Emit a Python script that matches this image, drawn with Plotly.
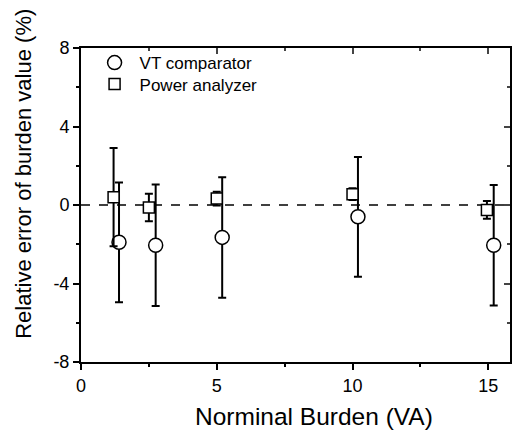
import plotly.graph_objects as go

# VT comparator (open circles)
vt_x = [1.4, 2.75, 5.2, 10.2, 15.2]
vt_y = [-1.9, -2.05, -1.65, -0.6, -2.05]
vt_err = [3.05, 3.1, 3.07, 3.05, 3.07]

# Power analyzer (open squares)
pa_x = [1.2, 2.5, 5.0, 10.0, 14.95]
pa_y = [0.4, -0.13, 0.33, 0.55, -0.25]
pa_err = [2.5, 0.7, 0.35, 0.3, 0.45]

y_ticks = [-8, -4, 0, 4, 8]
y_labels = ["-8", "-4", "0", "4", "8"]
x_ticks = [0, 5, 10, 15]

font = "Liberation Sans, Arial, sans-serif"
x_max = 15.8

fig = go.Figure()

# zero reference line
fig.add_trace(go.Scatter(x=[0, x_max], y=[0, 0], mode="lines",
                         line=dict(color="black", width=1.5, dash="dash"),
                         showlegend=False, hoverinfo="skip"))

fig.add_trace(go.Scatter(
    x=vt_x, y=vt_y, mode="markers", name="VT comparator", legend="legend",
    marker=dict(symbol="circle", size=14, color="white",
                line=dict(color="black", width=1.5)),
    error_y=dict(type="data", array=vt_err, color="black", thickness=2, width=4)))

fig.add_trace(go.Scatter(
    x=pa_x, y=pa_y, mode="markers", name="Power analyzer", legend="legend2",
    marker=dict(symbol="square", size=11, color="white",
                line=dict(color="black", width=1.5)),
    error_y=dict(type="data", array=pa_err, color="black", thickness=2, width=4)))

axis_common = dict(showline=True, linecolor="black", linewidth=2,
                   showgrid=False, zeroline=False, ticks="outside",
                   tickwidth=1.5, ticklen=6, tickcolor="black", automargin=False,
                   tickfont=dict(family=font, size=18, color="black"))

leg_common = dict(xanchor="left", yanchor="middle", bgcolor="rgba(0,0,0,0)",
                  font=dict(family=font, size=17), itemsizing="trace", itemwidth=40)

fig.update_layout(
    width=515, height=435,
    margin=dict(l=81, r=5, t=48, b=73),
    paper_bgcolor="white", plot_bgcolor="white",
    font=dict(family=font, color="black"),
    xaxis=dict(range=[0, x_max], tickvals=x_ticks,
               minor=dict(dtick=2.5, ticks="outside", ticklen=3, tickcolor="black"),
               **axis_common),
    yaxis=dict(range=[-8, 8], tickvals=y_ticks, ticktext=y_labels,
               minor=dict(dtick=2, ticks="outside", ticklen=3, tickcolor="black"),
               **axis_common),
    xaxis2=dict(overlaying="x", side="top", range=[0, x_max], tickvals=x_ticks,
                showticklabels=False, showline=True, linecolor="black", linewidth=2,
                ticks="inside", ticklen=6, tickwidth=1.5, showgrid=False, zeroline=False,
                automargin=False, minor=dict(dtick=2.5, ticks="inside", ticklen=3)),
    yaxis2=dict(overlaying="y", side="right", range=[-8, 8], tickvals=y_ticks,
                showticklabels=False, showline=True, linecolor="black", linewidth=2,
                ticks="inside", ticklen=6, tickwidth=1.5, showgrid=False, zeroline=False,
                automargin=False, minor=dict(dtick=2, ticks="inside", ticklen=3)),
    legend=dict(x=0.02, y=0.952, **leg_common),
    legend2=dict(x=0.02, y=0.884, **leg_common),
    showlegend=True,
)

# axis titles as annotations (they sit off-centre in the original)
fig.add_annotation(text="Norminal Burden (VA)", xref="paper", yref="paper",
                   x=0.543, y=-0.175, xanchor="center", yanchor="middle", showarrow=False,
                   font=dict(family=font, size=24.5, color="black"))
fig.add_annotation(text="Relative error of burden value (%)", xref="paper", yref="paper",
                   x=-0.133, y=0.599, xanchor="center", yanchor="middle",
                   showarrow=False, textangle=-90,
                   font=dict(family=font, size=22, color="black"))

# invisible trace to activate the mirrored axes
fig.add_trace(go.Scatter(x=[None], y=[None], xaxis="x2", yaxis="y2",
                         showlegend=False, hoverinfo="skip"))

fig.write_html("out.html", config=dict(displayModeBar=False),
               post_script="document.body.style.margin='0';document.body.style.overflow='hidden';")
